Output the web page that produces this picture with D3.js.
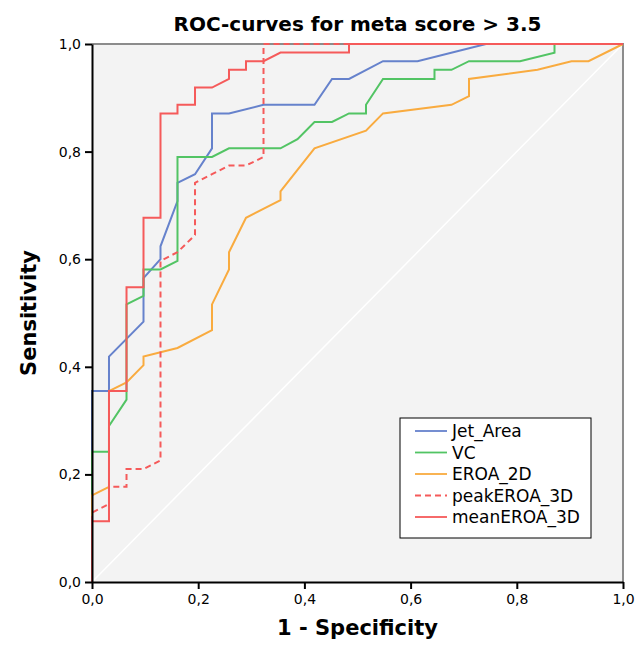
<!DOCTYPE html>
<html lang="en">
<head>
<meta charset="UTF-8">
<title>ROC-curves for meta score > 3.5</title>
<script src="https://cdn.jsdelivr.net/npm/d3@7"></script>
<style>
  body { margin: 0; background: #fff; }
  #chart text { font-family: "DejaVu Sans", sans-serif; fill: #000; }
  #chart .axis text { font-size: 14px; }
  .axis path, .axis line { stroke: #000; stroke-width: 2px; }
</style>
</head>
<body>
<div id="chart"></div>
<script>
// series names (legend order)
var seriesNames = ["Jet_Area", "VC", "EROA_2D", "peakEROA_3D", "meanEROA_3D"];
var seriesColors = ["#6682cc", "#52c464", "#f9ab3f", "#f55a5a", "#f55a5a"];
var seriesDashed = [false, false, false, true, false];

// [1 - specificity, sensitivity] points
var jetArea = [[0,0],[0,0.355],[0.032,0.355],[0.032,0.419],[0.097,0.484],[0.097,0.565],[0.129,0.6],[0.129,0.624],
  [0.161,0.708],[0.161,0.742],[0.194,0.758],[0.226,0.806],[0.226,0.871],[0.258,0.871],[0.323,0.887],[0.419,0.887],
  [0.452,0.935],[0.484,0.935],[0.548,0.968],[0.613,0.968],[0.742,1],[1,1]];
var vc = [[0,0],[0,0.242],[0.032,0.242],[0.032,0.29],[0.065,0.339],[0.065,0.516],[0.097,0.532],[0.097,0.581],
  [0.129,0.581],[0.161,0.597],[0.161,0.79],[0.226,0.79],[0.258,0.806],[0.355,0.806],[0.387,0.823],[0.419,0.855],
  [0.452,0.855],[0.484,0.871],[0.516,0.871],[0.516,0.887],[0.548,0.935],[0.645,0.935],[0.645,0.952],[0.677,0.952],
  [0.71,0.968],[0.806,0.968],[0.871,0.984],[0.871,1],[1,1]];
var eroa2d = [[0,0],[0,0.161],[0.032,0.177],[0.032,0.355],[0.065,0.371],[0.097,0.403],[0.097,0.419],[0.129,0.427],
  [0.161,0.435],[0.226,0.468],[0.226,0.516],[0.258,0.581],[0.258,0.613],[0.29,0.677],[0.355,0.71],[0.355,0.726],
  [0.419,0.806],[0.516,0.839],[0.548,0.871],[0.677,0.887],[0.71,0.903],[0.71,0.935],[0.839,0.952],[0.903,0.968],
  [0.935,0.968],[1,1]];
var peakEroa3d = [[0,0],[0,0.129],[0.032,0.145],[0.032,0.177],[0.065,0.177],[0.065,0.21],[0.097,0.21],[0.129,0.226],
  [0.129,0.597],[0.161,0.613],[0.194,0.645],[0.194,0.742],[0.226,0.758],[0.258,0.774],[0.29,0.774],[0.323,0.79],
  [0.323,1],[1,1]];
var meanEroa3d = [[0,0],[0,0.113],[0.032,0.113],[0.032,0.355],[0.065,0.355],[0.065,0.548],[0.097,0.548],[0.097,0.677],
  [0.129,0.677],[0.129,0.871],[0.161,0.871],[0.161,0.887],[0.194,0.887],[0.194,0.919],[0.226,0.919],[0.258,0.935],
  [0.258,0.952],[0.29,0.952],[0.29,0.968],[0.323,0.968],[0.355,0.984],[0.484,0.984],[0.484,1],[1,1]];
var seriesData = [jetArea, vc, eroa2d, peakEroa3d, meanEroa3d];

var tickValues = [0, 0.2, 0.4, 0.6, 0.8, 1.0];

var svg = d3.select("#chart").append("svg").attr("width", 644).attr("height", 646);
var plotLeft = 92, plotRight = 623, plotTop = 44, plotBottom = 582;

var x = d3.scaleLinear().domain([0, 1]).range([plotLeft, plotRight]);
var y = d3.scaleLinear().domain([0, 1]).range([plotBottom, plotTop]);
var fmt = function(d) { return d3.format(".1f")(d).replace(".", ","); };

// plot background
svg.append("rect").attr("x", plotLeft).attr("y", plotTop)
  .attr("width", plotRight - plotLeft).attr("height", plotBottom - plotTop).attr("fill", "#f3f3f3");

// reference diagonal
svg.append("line").attr("x1", x(0)).attr("y1", y(0)).attr("x2", x(1)).attr("y2", y(1))
  .attr("stroke", "#fff").attr("stroke-width", 1.5);

// top and right frame
svg.append("path").attr("d", "M" + plotLeft + "," + plotTop + "H" + plotRight + "V" + plotBottom)
  .attr("fill", "none").attr("stroke", "#8c8c8c").attr("stroke-width", 2);

var line = d3.line().x(function(d) { return x(d[0]); }).y(function(d) { return y(d[1]); });

seriesData.forEach(function(data, i) {
  svg.append("path").datum(data)
    .attr("d", line)
    .attr("fill", "none")
    .attr("stroke", seriesColors[i])
    .attr("stroke-width", 2)
    .attr("stroke-dasharray", seriesDashed[i] ? "6,4" : null);
});

svg.append("g").attr("class", "axis")
  .attr("transform", "translate(" + plotLeft + ",0)")
  .call(d3.axisLeft(y).tickValues(tickValues).tickFormat(fmt).tickSize(7).tickSizeOuter(0).tickPadding(4));

svg.append("g").attr("class", "axis")
  .attr("transform", "translate(0," + plotBottom + ")")
  .call(d3.axisBottom(x).tickValues(tickValues).tickFormat(fmt).tickSize(7).tickSizeOuter(0).tickPadding(5));

// title and axis titles
svg.append("text").attr("x", (plotLeft + plotRight) / 2).attr("y", 31)
  .attr("text-anchor", "middle").style("font-size", "20px").style("font-weight", "bold")
  .text("ROC-curves for meta score > 3.5");

svg.append("text").attr("x", (plotLeft + plotRight) / 2).attr("y", 635)
  .attr("text-anchor", "middle").style("font-size", "21px").style("font-weight", "bold")
  .text("1 - Specificity");

svg.append("text").attr("transform", "translate(36," + (plotTop + plotBottom) / 2 + ") rotate(-90)")
  .attr("text-anchor", "middle").style("font-size", "21px").style("font-weight", "bold")
  .text("Sensitivity");

// legend
var legend = svg.append("g").attr("transform", "translate(400,418)");
legend.append("rect").attr("width", 191).attr("height", 120)
  .attr("fill", "#fff").attr("stroke", "#000").attr("stroke-width", 1);
seriesNames.forEach(function(name, i) {
  var ly = 13 + i * 21.5;
  legend.append("line").attr("x1", 15).attr("x2", 47).attr("y1", ly).attr("y2", ly)
    .attr("stroke", seriesColors[i]).attr("stroke-width", 1.8)
    .attr("stroke-dasharray", seriesDashed[i] ? "6,4" : null);
  legend.append("text").attr("x", 52).attr("y", ly + 6)
    .style("font-size", "17px").text(name);
});
</script>
</body>
</html>
